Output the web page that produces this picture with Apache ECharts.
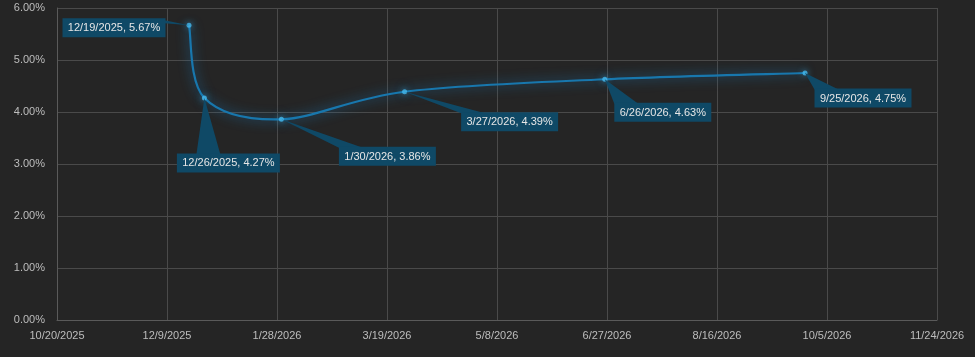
<!DOCTYPE html>
<html>
<head>
<meta charset="utf-8">
<script src="https://cdn.jsdelivr.net/npm/echarts@6/dist/echarts.min.js"></script>
<style>
html,body{margin:0;padding:0;background:#252525;}
#chart{width:975px;height:357px;}
</style>
</head>
<body>
<div id="chart"></div>
<script>
// ---- data ----
const dates = ['12/19/2025', '12/26/2025', '1/30/2026', '3/27/2026', '6/26/2026', '9/25/2026'];
const rates = [5.67, 4.27, 3.86, 4.39, 4.63, 4.75];
const xAxisStart = '10/20/2025';
const xAxisEnd = '11/24/2026';
const xAxisStepDays = 50;
const yAxisMin = 0;
const yAxisMax = 6;
const yAxisStep = 1;

// ---- layout (pixel offsets of callout box centres from their points) ----
const calloutOffsets = [[-75, 2.5], [24, 65], [106, 37], [105, 30], [58, 33], [58, 25]];

const EPOCH = Date.UTC(1899, 11, 30);
function toSerial(s) {
  const [m, d, y] = s.split('/').map(Number);
  return Math.round((Date.UTC(y, m - 1, d) - EPOCH) / 86400000);
}
function fromSerial(n) {
  const dt = new Date(EPOCH + Math.round(n) * 86400000);
  return (dt.getUTCMonth() + 1) + '/' + dt.getUTCDate() + '/' + dt.getUTCFullYear();
}
const points = dates.map((d, i) => [toSerial(d), rates[i]]);
const labels = dates.map((d, i) => d + ', ' + rates[i].toFixed(2) + '%');

const FONT = '11px "Liberation Sans", Arial, sans-serif';
const ctx = document.createElement('canvas').getContext('2d');
ctx.font = FONT;
const BOX = '#0f4966';
const LINE = '#1877ad';

const chart = echarts.init(document.getElementById('chart'), null, {renderer: 'canvas'});
chart.setOption({
  backgroundColor: '#252525',
  animation: false,
  grid: {left: 57, right: 38, top: 8, bottom: 37},
  xAxis: {
    type: 'value',
    min: toSerial(xAxisStart),
    max: toSerial(xAxisEnd),
    interval: xAxisStepDays,
    axisLine: {show: true, lineStyle: {color: '#5a5a5a', width: 1}},
    axisTick: {show: false},
    splitLine: {show: true, lineStyle: {color: '#4a4a4a', width: 1}},
    axisLabel: {
      color: '#bdbdbd', fontSize: 11, fontFamily: '"Liberation Sans", Arial, sans-serif',
      margin: 10, formatter: v => fromSerial(v), showMinLabel: true, showMaxLabel: true
    }
  },
  yAxis: {
    type: 'value',
    min: yAxisMin, max: yAxisMax, interval: yAxisStep,
    axisLine: {show: true, lineStyle: {color: '#5a5a5a', width: 1}},
    axisTick: {show: false},
    splitLine: {show: true, lineStyle: {color: '#4a4a4a', width: 1}},
    axisLabel: {
      color: '#bdbdbd', fontSize: 11, fontFamily: '"Liberation Sans", Arial, sans-serif',
      margin: 12, formatter: v => v.toFixed(2) + '%'
    }
  },
  series: [
    {
      // smooth curve (Excel-style cardinal Bezier) drawn through the axis scales
      type: 'custom',
      data: points,
      z: 3,
      renderItem: function (params, api) {
        const i = params.dataIndex;
        if (i >= points.length - 1) return null;
        const c = k => api.coord(points[Math.max(0, Math.min(points.length - 1, k))]);
        const p0 = c(i - 1), p1 = c(i), p2 = c(i + 1), p3 = c(i + 2);
        const cp1 = [p1[0] + (p2[0] - p0[0]) / 6, p1[1] + (p2[1] - p0[1]) / 6];
        const cp2 = [p2[0] - (p3[0] - p1[0]) / 6, p2[1] - (p3[1] - p1[1]) / 6];
        return {
          type: 'bezierCurve',
          shape: {x1: p1[0], y1: p1[1], x2: p2[0], y2: p2[1],
                  cpx1: cp1[0], cpy1: cp1[1], cpx2: cp2[0], cpy2: cp2[1]},
          style: {stroke: LINE, lineWidth: 2.2, fill: null,
                  shadowBlur: 12, shadowColor: 'rgba(25,130,200,0.9)'}
        };
      }
    },
    {
      type: 'scatter',
      data: points,
      symbol: 'circle',
      symbolSize: 5,
      z: 4,
      itemStyle: {color: '#45b8ec', shadowBlur: 6, shadowColor: 'rgba(60,180,240,0.9)'}
    },
    {
      type: 'custom',
      data: points,
      z: 5,
      renderItem: function (params, api) {
        const i = params.dataIndex;
        const p = api.coord([api.value(0), api.value(1)]);
        const txt = labels[i];
        const w = Math.round(ctx.measureText(txt).width + 11);
        const h = 19;
        const cx = p[0] + calloutOffsets[i][0];
        const cy = p[1] + calloutOffsets[i][1];
        const left = cx - w / 2, right = cx + w / 2, top = cy - h / 2, bottom = cy + h / 2;
        let base;
        if (p[1] < top) {
          let x0 = Math.max(left, p[0] - 8);
          x0 = Math.min(x0, right - 24);
          base = [[x0, top + 1], [x0 + 24, top + 1]];
        } else if (p[0] > right) {
          base = [[right - 1, top + 2], [right - 1, top + 5]];
        } else if (p[0] < left) {
          base = [[left + 1, top + 2], [left + 1, top + 5]];
        } else {
          base = [[p[0] - 12, bottom - 1], [p[0] + 12, bottom - 1]];
        }
        return {
          type: 'group',
          children: [
            {type: 'polygon', shape: {points: [p, base[0], base[1]]}, style: {fill: BOX}},
            {type: 'rect', shape: {x: left, y: top, width: w, height: h}, style: {fill: BOX}},
            {type: 'text', x: cx, y: cy + 0.5, style: {
              text: txt, font: FONT, fill: '#e6e6e6', align: 'center', verticalAlign: 'middle'
            }}
          ]
        };
      }
    }
  ]
});
</script>
</body>
</html>
